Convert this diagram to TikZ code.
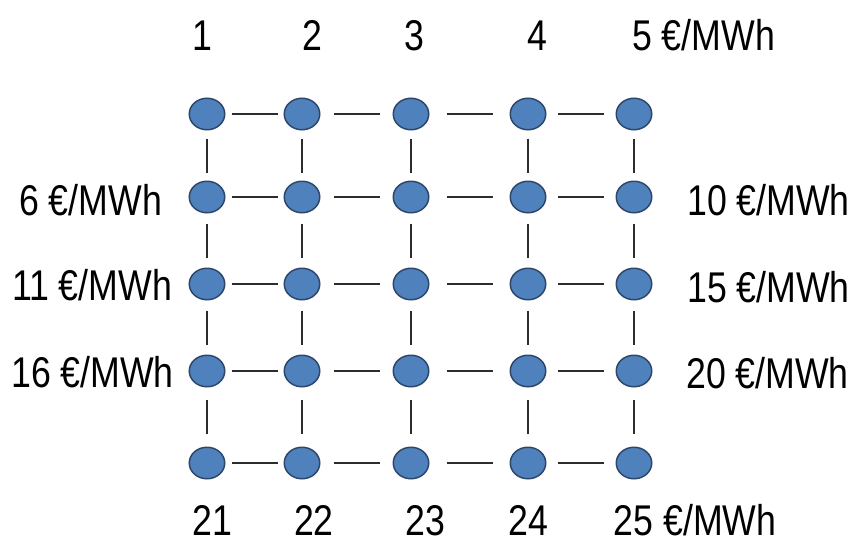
\documentclass[tikz,border=0pt]{standalone}
\usepackage{fontspec}
\setmainfont{Liberation Sans}
\usetikzlibrary{shapes.geometric,calc}
\definecolor{busblue}{RGB}{79,129,189}
\definecolor{busedge}{RGB}{45,70,105}
\definecolor{linkgrey}{RGB}{45,45,45}
\tikzset{
    bus/.style={ellipse, draw=busedge, fill=busblue, line width=1.5pt, minimum width=35.5pt, minimum height=31.5pt, inner sep=0pt},
    price/.style={font=\fontsize{43}{50}\selectfont, inner sep=0pt, anchor=base, xscale=.83, transform shape},
    hlink/.style={draw=linkgrey, line width=2pt, to path={($(\tikztostart)!.5!(\tikztotarget)$) +(-23,0) -- +(23,0)}},
    vlink/.style={draw=linkgrey, line width=2pt, to path={($(\tikztostart)!.5!(\tikztotarget)$) +(0,-17) -- +(0,17)}}
}
\begin{document}
\begin{tikzpicture}[x=1pt, y=-1pt]
    \useasboundingbox (0,0) rectangle (853,538);
    \foreach \c/\x in {1/207,2/302,3/411,4/528,5/634}
        \foreach \r/\y in {1/114,2/197,3/284,4/371,5/463}
            \node[bus] (n\r\c) at (\x,\y) {};

    \foreach \r in {1,...,5}
        \foreach \c/\d in {1/2,2/3,3/4,4/5}
            \draw[hlink] (n\r\c) to (n\r\d);
    \foreach \c in {1,...,5}
        \foreach \r/\s in {1/2,2/3,3/4,4/5}
            \draw[vlink] (n\r\c) to (n\s\c);

    \node[price] (t1) at (202,50) {1};
    \node[price] (t2) at (312.5,50) {2};
    \node[price] (t3) at (414,50) {3};
    \node[price] (t4) at (537,50) {4};
    \node[price] (t5) at (703.5,50) {5 €/MWh};

    \node[price] (l6) at (90.5,215) {6 €/MWh};
    \node[price] (l11) at (92,300) {11 €/MWh};
    \node[price] (l16) at (92.5,387) {16 €/MWh};

    \node[price] (r10) at (768.5,215) {10 €/MWh};
    \node[price] (r15) at (768.5,302) {15 €/MWh};
    \node[price] (r20) at (767.5,388) {20 €/MWh};

    \node[price] (b21) at (212.5,535.5) {21};
    \node[price] (b22) at (314,535.5) {22};
    \node[price] (b23) at (425,535.5) {23};
    \node[price] (b24) at (528.5,535.5) {24};
    \node[price] (b25) at (695,535.5) {25 €/MWh};
\end{tikzpicture}
\end{document}
